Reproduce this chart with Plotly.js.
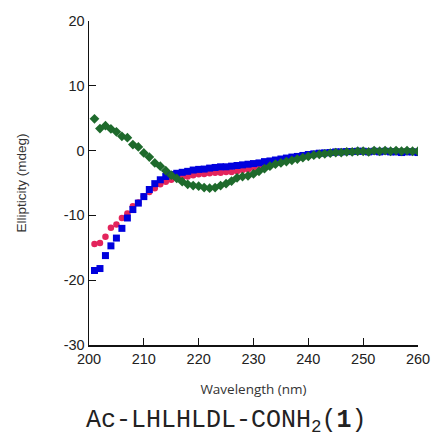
<!DOCTYPE html>
<html>
<head>
<meta charset="utf-8">
<script src="https://cdn.plot.ly/plotly-3.0.1.min.js"></script>
<style>html,body{margin:0;padding:0;background:#fff;}#chart{width:432px;height:439px;}</style>
</head>
<body>
<div id="chart"></div>
<script>
const wavelength = [201,202,203,204,205,206,207,208,209,210,211,212,213,214,215,216,217,218,219,220,221,222,223,224,225,226,227,228,229,230,231,232,233,234,235,236,237,238,239,240,241,242,243,244,245,246,247,248,249,250,251,252,253,254,255,256,257,258,259,260];

const redSeries = [-14.4,-14.25,-13.3,-11.9,-11.4,-10.4,-9.7,-8.6,-8.0,-7.05,-6.4,-5.8,-5.2,-4.8,-4.5,-4.2,-4.1,-4.0,-3.8,-3.65,-3.6,-3.5,-3.4,-3.4,-3.3,-3.3,-3.2,-3.0,-2.9,-2.7,-2.5,-2.3,-2.1,-1.9,-1.7,-1.5,-1.3,-1.1,-0.9,-0.8,-0.6,-0.5,-0.4,-0.35,-0.3,-0.25,-0.2,-0.2,-0.15,-0.1,-0.15,-0.1,-0.1,-0.05,-0.1,-0.05,-0.1,-0.05,-0.1,-0.1];

const blueSeries = [-18.5,-18.2,-16.2,-14.7,-13.5,-12.0,-10.4,-9.1,-8.1,-7.1,-6.0,-5.1,-4.5,-4.0,-3.7,-3.5,-3.35,-3.2,-3.0,-2.9,-2.85,-2.7,-2.6,-2.5,-2.5,-2.4,-2.3,-2.2,-2.1,-2.0,-1.9,-1.7,-1.6,-1.45,-1.3,-1.15,-1.0,-0.9,-0.75,-0.6,-0.5,-0.4,-0.35,-0.3,-0.2,-0.2,-0.15,-0.15,-0.1,-0.1,-0.2,-0.1,-0.2,-0.1,-0.2,-0.2,-0.3,-0.2,-0.2,-0.3];

const greenSeries = [4.9,3.4,3.85,3.35,2.9,2.2,2.0,0.93,0.57,-0.36,-1.0,-1.9,-2.4,-3.1,-3.8,-4.3,-4.8,-5.2,-5.4,-5.5,-5.7,-5.8,-5.7,-5.4,-5.1,-4.7,-4.2,-4.0,-3.9,-3.6,-3.2,-2.8,-2.4,-2.1,-1.9,-1.7,-1.5,-1.3,-1.1,-0.9,-0.7,-0.6,-0.5,-0.4,-0.3,-0.3,-0.2,-0.2,-0.1,-0.1,-0.2,0.0,-0.1,0.0,-0.1,0.0,-0.1,0.0,-0.1,-0.1];

const xTicks = [200,210,220,230,240,250,260];
const yTicks = [-30,-20,-10,0,10,20];

const traces = [
  {x: wavelength, y: redSeries, type: 'scatter', mode: 'markers', name: 'red',
   marker: {symbol: 'circle', size: 6.5, color: '#e3245c'}},
  {x: wavelength, y: blueSeries, type: 'scatter', mode: 'markers', name: 'blue',
   marker: {symbol: 'square', size: 7, color: '#0000dd'}},
  {x: wavelength, y: greenSeries, type: 'scatter', mode: 'markers', name: 'green',
   marker: {symbol: 'diamond', size: 7.5, color: '#1e6a2c'}}
];

const layout = {
  width: 432, height: 439,
  margin: {l: 89, r: 14, t: 21, b: 94},
  paper_bgcolor: '#fff', plot_bgcolor: '#fff',
  showlegend: false,
  font: {family: 'Liberation Sans, Arial, sans-serif', color: '#222'},
  xaxis: {
    range: [200, 260], tickvals: xTicks, ticktext: xTicks.map(String),
    ticks: 'inside', ticklen: 7, tickwidth: 1.2, tickcolor: '#111',
    showline: true, linecolor: '#111', linewidth: 1.5,
    showgrid: false, zeroline: false, mirror: false,
    tickfont: {size: 14.5, color: '#222'},
    title: {text: 'Wavelength (nm)', font: {family: 'Open Sans, sans-serif', size: 13.5, color: '#333'}, standoff: 18}
  },
  yaxis: {
    range: [-30, 20], tickvals: yTicks, ticktext: yTicks.map(String),
    ticks: 'inside', ticklen: 7, tickwidth: 1.2, tickcolor: '#111',
    showline: true, linecolor: '#111', linewidth: 1.5,
    showgrid: false, zeroline: false, mirror: false,
    tickfont: {size: 14.5, color: '#222'},
    title: {text: 'Ellipticity (mdeg)', font: {family: 'Liberation Sans, Arial, sans-serif', size: 13.5, color: '#333'}, standoff: 34}
  },
  annotations: [
    {text: 'Ac-LHLHLDL-CONH<sub>2</sub>(<b>1</b>)', xref: 'paper', yref: 'paper',
     x: 0.418, y: -0.235, xanchor: 'center', yanchor: 'middle', showarrow: false,
     font: {family: 'Liberation Mono, DejaVu Sans Mono, monospace', size: 25, color: '#222'}}
  ]
};

Plotly.newPlot('chart', traces, layout, {displayModeBar: false, staticPlot: true});
</script>
</body>
</html>
